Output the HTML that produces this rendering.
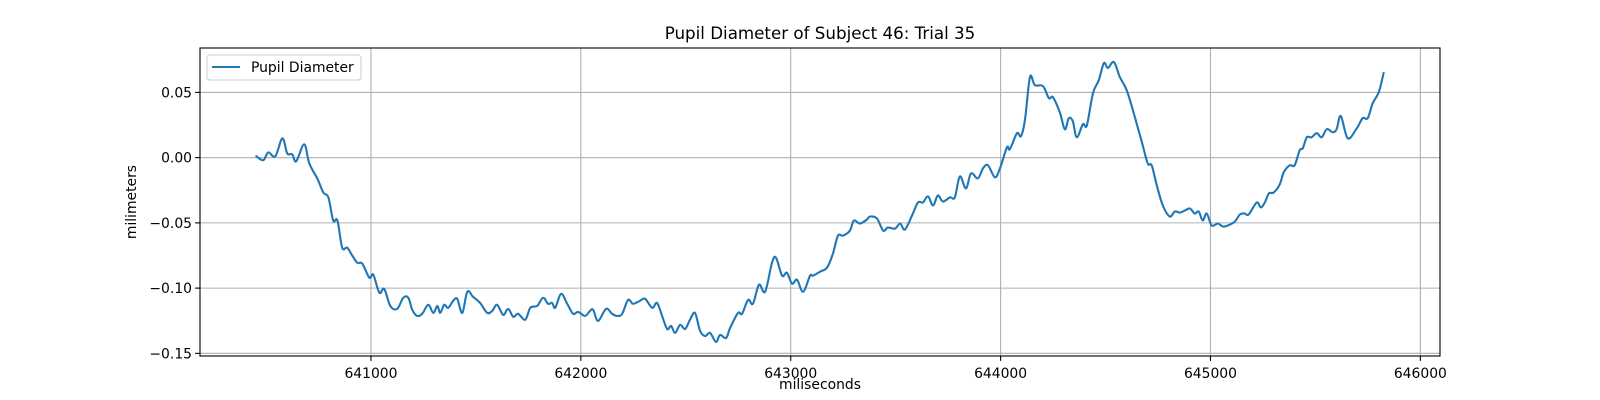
<!DOCTYPE html>
<html><head><meta charset="utf-8"><style>
html,body{margin:0;padding:0;background:#fff;}
svg{display:block;font-family:"DejaVu Sans","Liberation Sans",sans-serif;}
</style></head><body>
<svg id="chart" width="1600" height="400" viewBox="0 0 1600 400" xmlns="http://www.w3.org/2000/svg">
<rect width="1600" height="400" fill="#fff"/>
<text x="820" y="39" font-size="16.7" text-anchor="middle">Pupil Diameter of Subject 46: Trial 35</text>
<g id="grid"></g>
<g id="series"></g>
<rect x="200" y="48" width="1240" height="308" fill="none" stroke="#000" stroke-width="1.1"/>
<g id="ticks"></g>
<text x="820" y="389" font-size="13.9" text-anchor="middle">miliseconds</text>
<text x="136" y="202" font-size="13.9" text-anchor="middle" transform="rotate(-90 136 202)">milimeters</text>
<g>
<rect x="207" y="55" width="154" height="25" rx="3" fill="#fff" fill-opacity="0.8" stroke="#ccc" stroke-width="1"/>
<line x1="212" y1="67" x2="240" y2="67" stroke="#1f77b4" stroke-width="2.1"/>
<text x="251" y="72" font-size="13.9">Pupil Diameter</text>
</g>
</svg>
<script>
const times = [640454,640487,640511,640544,640578,640601,640625,640644,640682,640706,640744,640773,640797,640820,640840,640863,640887,640911,640935,640959,640992,641011,641040,641063,641092,641125,641154,641178,641197,641220,641244,641273,641297,641316,641330,641349,641368,641392,641411,641435,641459,641487,641520,641554,641578,641601,641630,641654,641678,641701,641735,641759,641792,641820,641844,641863,641878,641906,641935,641963,641987,642020,642044,642059,642082,642120,642149,642173,642197,642225,642249,642282,642306,642340,642363,642387,642411,642430,642449,642473,642497,642520,642544,642568,642592,642616,642644,642663,642692,642711,642749,642768,642797,642820,642849,642878,642911,642930,642959,642982,643006,643030,643059,643092,643106,643140,643173,643201,643225,643249,643282,643301,643330,643363,643378,643411,643440,643463,643497,643521,643544,643578,643606,643630,643654,643678,643701,643725,643759,643782,643806,643835,643859,643892,643916,643940,643973,643997,644030,644044,644078,644097,644116,644140,644163,644202,644230,644249,644282,644306,644325,644344,644363,644392,644411,644440,644468,644492,644511,644540,644568,644601,644640,644673,644701,644720,644744,644773,644806,644830,644854,644878,644902,644925,644944,644963,644982,645006,645035,645059,645082,645116,645140,645163,645182,645220,645240,645259,645278,645301,645330,645349,645378,645401,645425,645440,645459,645482,645506,645530,645554,645582,645601,645621,645654,645697,645725,645749,645773,645802,645825];
const diameters = [0.001,-0.002,0.004,0.001,0.0148,0.0033,0.0025,-0.0028,0.0102,-0.0044,-0.0159,-0.0267,-0.0305,-0.0482,-0.0482,-0.069,-0.069,-0.0751,-0.0805,-0.0813,-0.092,-0.0897,-0.1036,-0.1005,-0.1136,-0.1159,-0.1074,-0.1074,-0.1167,-0.1213,-0.1197,-0.1128,-0.119,-0.1136,-0.119,-0.1128,-0.1151,-0.1097,-0.1082,-0.119,-0.1028,-0.1067,-0.1113,-0.119,-0.1174,-0.1128,-0.1205,-0.1159,-0.122,-0.1197,-0.1243,-0.1151,-0.1136,-0.1074,-0.112,-0.1113,-0.1151,-0.1044,-0.112,-0.1197,-0.1182,-0.1213,-0.1174,-0.1167,-0.1251,-0.1159,-0.1197,-0.1213,-0.1197,-0.109,-0.112,-0.1097,-0.1082,-0.1151,-0.1113,-0.1213,-0.1313,-0.129,-0.1343,-0.1282,-0.1313,-0.1243,-0.119,-0.1328,-0.1367,-0.1343,-0.1413,-0.1359,-0.1382,-0.1305,-0.119,-0.1197,-0.109,-0.112,-0.0974,-0.1028,-0.0805,-0.0767,-0.0905,-0.0882,-0.0966,-0.0936,-0.1028,-0.0905,-0.0905,-0.0874,-0.0843,-0.0736,-0.0598,-0.0598,-0.0559,-0.0482,-0.0505,-0.0474,-0.0451,-0.0467,-0.0559,-0.0536,-0.0544,-0.0505,-0.0551,-0.0444,-0.0344,-0.0344,-0.0297,-0.0367,-0.029,-0.0336,-0.0305,-0.0305,-0.0144,-0.0236,-0.0121,-0.0159,-0.0082,-0.0059,-0.0151,-0.0082,0.0079,0.0064,0.0187,0.0164,0.0287,0.0618,0.0556,0.0548,0.0456,0.0463,0.0348,0.0217,0.0302,0.0279,0.0156,0.0256,0.0248,0.0494,0.0594,0.0725,0.0687,0.0733,0.0618,0.0517,0.031,0.0118,-0.0044,-0.0059,-0.0213,-0.0367,-0.0451,-0.0413,-0.0421,-0.0405,-0.039,-0.0428,-0.0413,-0.0482,-0.0428,-0.052,-0.0505,-0.0528,-0.052,-0.049,-0.0436,-0.0428,-0.0436,-0.0344,-0.0382,-0.0344,-0.0275,-0.0267,-0.0205,-0.0113,-0.0059,-0.0059,0.0056,0.0072,0.0156,0.0156,0.0187,0.0156,0.0218,0.0195,0.0218,0.0318,0.0148,0.0225,0.0302,0.0302,0.0417,0.0502,0.0648];
const xTicks = [641000,642000,643000,644000,645000,646000];
const yTicks = [0.05,0.00,-0.05,-0.10,-0.15];
const yTickLabels = ["0.05","0.00","\u22120.05","\u22120.10","\u22120.15"];

const NS = "http://www.w3.org/2000/svg";
const L = 200, R = 1440, T = 48, B = 356;
const tMin = Math.min(...times), tMax = Math.max(...times);
const dMin = Math.min(...diameters), dMax = Math.max(...diameters);
const xPad = (tMax - tMin) * 0.05, yPad = (dMax - dMin) * 0.05;
const x0 = tMin - xPad, x1 = tMax + xPad, y0 = dMin - yPad, y1 = dMax + yPad;
const sx = v => L + (v - x0) / (x1 - x0) * (R - L);
const sy = v => B - (v - y0) / (y1 - y0) * (B - T);
function mk(tag, attrs, parent) {
  const e = document.createElementNS(NS, tag);
  for (const k in attrs) e.setAttribute(k, attrs[k]);
  parent.appendChild(e);
  return e;
}
const grid = document.getElementById('grid'), ticks = document.getElementById('ticks'), series = document.getElementById('series');
xTicks.forEach(t => {
  const x = sx(t);
  const g = mk('line', {x1: x, x2: x, y1: T, y2: B, stroke: '#b0b0b0', 'stroke-width': 1.1}, grid);
  
  
  const tk = mk('line', {x1: x, x2: x, y1: B, y2: B + 4.9, stroke: '#000', 'stroke-width': 1.1}, ticks);
  
  
  const lb = mk('text', {x: x, y: B + 22, 'font-size': 13.9, 'text-anchor': 'middle'}, ticks);
  lb.textContent = String(t);
  
  
});
yTicks.forEach((t, i) => {
  const y = sy(t);
  const g = mk('line', {x1: L, x2: R, y1: y, y2: y, stroke: '#b0b0b0', 'stroke-width': 1.1}, grid);
  
  
  const tk = mk('line', {x1: L - 4.9, x2: L, y1: y, y2: y, stroke: '#000', 'stroke-width': 1.1}, ticks);
  
  
  const lb = mk('text', {x: L - 8, y: y + 5, 'font-size': 13.9, 'text-anchor': 'end'}, ticks);
  lb.textContent = yTickLabels[i];
  
  
});
const P = times.map((t, i) => [sx(t), sy(diameters[i])]);
let d = 'M' + P[0][0].toFixed(1) + ',' + P[0][1].toFixed(1);
for (let i = 0; i < P.length - 1; i++) {
  const p0 = P[Math.max(0, i - 1)], p1 = P[i], p2 = P[i + 1], p3 = P[Math.min(P.length - 1, i + 2)];
  const c1x = p1[0] + (p2[0] - p0[0]) / 6, c1y = p1[1] + (p2[1] - p0[1]) / 6;
  const c2x = p2[0] - (p3[0] - p1[0]) / 6, c2y = p2[1] - (p3[1] - p1[1]) / 6;
  d += ' C' + c1x.toFixed(1) + ',' + c1y.toFixed(1) + ' ' + c2x.toFixed(1) + ',' + c2y.toFixed(1) + ' ' + p2[0].toFixed(1) + ',' + p2[1].toFixed(1);
}
const line = mk('path', {d: d, fill: 'none', stroke: '#1f77b4', 'stroke-width': 2.1, 'stroke-linejoin': 'round', 'stroke-linecap': 'square'}, series);


</script>
</body></html>
